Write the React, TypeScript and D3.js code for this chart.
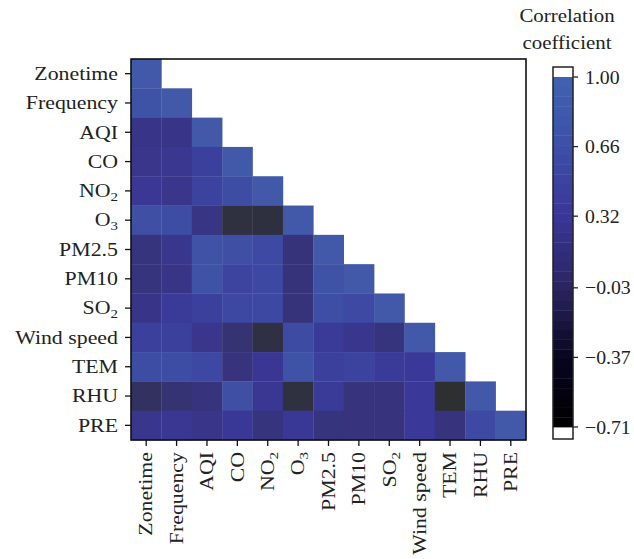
import React from "react";
import * as d3 from "d3";

const variables = ["Zonetime", "Frequency", "AQI", "CO", "NO2", "O3", "PM2.5", "PM10", "SO2", "Wind speed", "TEM", "RHU", "PRE"];
const subscripted = ["NO2", "O3", "SO2"];

// lower-triangle correlation rows (row i has i+1 values)
const rowZonetime = [1];
const rowFrequency = [0.87, 1];
const rowAQI = [0.13, 0.13, 1];
const rowCO = [0.18, 0.22, 0.5, 1];
const rowNO2 = [0.28, 0.18, 0.55, 0.75, 1];
const rowO3 = [0.8, 0.75, 0.1, -0.5, -0.52, 1];
const rowPM25 = [0.02, 0.2, 0.87, 0.8, 0.68, -0.03, 1];
const rowPM10 = [0.02, 0.12, 0.87, 0.58, 0.66, -0.03, 0.87, 1];
const rowSO2 = [0.13, 0.36, 0.5, 0.66, 0.66, -0.03, 0.78, 0.68, 1];
const rowWind = [0.5, 0.5, 0.18, -0.08, -0.45, 0.72, 0.36, 0.2, 0.02, 1];
const rowTEM = [0.75, 0.75, 0.66, 0.0, 0.26, 0.87, 0.5, 0.55, 0.36, 0.34, 1];
const rowRHU = [-0.22, -0.08, 0.0, 0.8, 0.24, -0.5, 0.36, 0.0, 0.0, 0.32, -0.71, 1];
const rowPRE = [0.2, 0.24, 0.15, 0.3, 0.02, 0.3, 0.02, 0.0, 0.0, 0.32, 0.0, 0.68, 1];
const matrix = [rowZonetime, rowFrequency, rowAQI, rowCO, rowNO2, rowO3, rowPM25, rowPM10, rowSO2, rowWind, rowTEM, rowRHU, rowPRE];

const colorbarTicks = [1.0, 0.66, 0.32, -0.03, -0.37, -0.71];
const colorStops = [-0.71, -0.37, -0.03, 0.32, 0.66, 1.0];
const barColors = ["#000000", "#08051f", "#2a2560", "#3a3698", "#3d4fa8", "#4062b0"];
const cellColors = ["#2d2f30", "#30304a", "#37337a", "#3a3898", "#3d48a2", "#4159a8"];

const FONT = "'Liberation Serif', 'Times New Roman', serif";
const TXT = "#222";
const SX = 1.15;

function Label({ name }: { name: string }) {
  if (subscripted.includes(name)) {
    const base = name.slice(0, -1);
    const sub = name.slice(-1);
    return (
      <>
        {base}
        <tspan fontSize={13} dy={4}>{sub}</tspan>
      </>
    );
  }
  return <>{name}</>;
}

export default function App() {
  const W = 634, H = 559;
  const left = 131, right = 526, top = 59, bottom = 440;
  const x = d3.scaleBand<string>().domain(variables).range([left, right]);
  const y = d3.scaleBand<string>().domain(variables).range([top, bottom]);
  const cellColor = d3.scaleLinear<string>().domain(colorStops).range(cellColors).interpolate(d3.interpolateRgb).clamp(true);
  const barColor = d3.scaleLinear<string>().domain(colorStops).range(barColors).interpolate(d3.interpolateRgb).clamp(true);

  const cbX = 553, cbW = 20, cbTop = 77, cbBottom = 427;
  const cbY = d3.scaleLinear().domain([-0.71, 1.0]).range([cbBottom, cbTop]);
  const nBands = 36;
  const bands = d3.range(nBands).map((i) => {
    const v0 = -0.71 + (1.71 * i) / nBands;
    const v1 = -0.71 + (1.71 * (i + 1)) / nBands;
    return { v0, v1, c: barColor((v0 + v1) / 2) };
  });

  const cells: { r: string; c: string; v: number }[] = [];
  matrix.forEach((row, i) => row.forEach((v, j) => cells.push({ r: variables[i], c: variables[j], v })));

  return (
    <svg width={W} height={H} style={{ position: "absolute", left: 0, top: 0, background: "#fff" }} fontFamily={FONT}>
      <rect width={W} height={H} fill="#fff" />
      {cells.map((d, k) => (
        <rect key={k} x={x(d.c)} y={y(d.r)} width={x.bandwidth() + 0.3} height={y.bandwidth() + 0.3} fill={cellColor(d.v)} />
      ))}
      <rect x={left} y={top} width={right - left} height={bottom - top} fill="none" stroke="#111" strokeWidth={1.6} />
      {variables.map((v) => {
        const cy = (y(v) as number) + y.bandwidth() / 2;
        return (
          <g key={"y" + v}>
            <line x1={left - 6} x2={left} y1={cy} y2={cy} stroke="#111" strokeWidth={1.3} />
            <g transform={`translate(${left - 13},${cy}) scale(${SX},1)`}>
              <text textAnchor="end" dy="0.33em" fontSize={19} fill={TXT}><Label name={v} /></text>
            </g>
          </g>
        );
      })}
      {variables.map((v) => {
        const cx = (x(v) as number) + x.bandwidth() / 2;
        return (
          <g key={"x" + v}>
            <line x1={cx} x2={cx} y1={bottom} y2={bottom + 6} stroke="#111" strokeWidth={1.3} />
            <g transform={`translate(${cx},${bottom + 12}) rotate(-90) scale(${SX},1)`}>
              <text textAnchor="end" dy="0.33em" fontSize={19} fill={TXT}><Label name={v} /></text>
            </g>
          </g>
        );
      })}
      {/* colorbar */}
      <rect x={cbX} y={cbTop - 10} width={cbW} height={cbBottom - cbTop + 22} fill="#fff" />
      {bands.map((b, i) => (
        <rect key={"b" + i} x={cbX} y={cbY(b.v1)} width={cbW} height={cbY(b.v0) - cbY(b.v1) + 0.4} fill={b.c} />
      ))}
      <rect x={cbX} y={cbTop - 10} width={cbW} height={cbBottom - cbTop + 22} fill="none" stroke="#222" strokeWidth={1.5} />
      {colorbarTicks.map((t) => (
        <g key={"t" + t}>
          <line x1={cbX + cbW} x2={cbX + cbW + 5} y1={cbY(t)} y2={cbY(t)} stroke="#222" strokeWidth={1.3} />
          <g transform={`translate(${cbX + cbW + 12},${cbY(t)}) scale(1.04,1)`}>
            <text dy="0.35em" fontSize={19} fill={TXT}>{t < 0 ? "\u2212" + Math.abs(t).toFixed(2) : t.toFixed(2)}</text>
          </g>
        </g>
      ))}
      <g transform={`translate(567,22) scale(1.1,1)`}>
        <text textAnchor="middle" fontSize={19} fill={TXT}>Correlation</text>
      </g>
      <g transform={`translate(567,49) scale(1.1,1)`}>
        <text textAnchor="middle" fontSize={19} fill={TXT}>coefficient</text>
      </g>
    </svg>
  );
}
